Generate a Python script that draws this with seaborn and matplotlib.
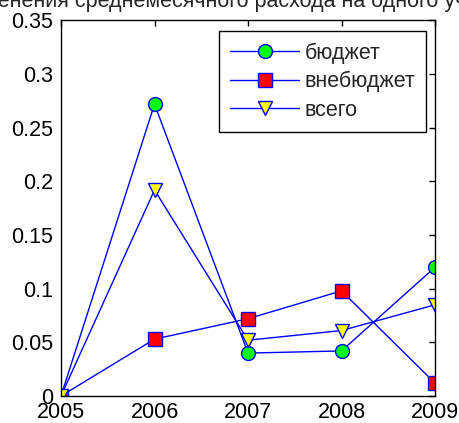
import numpy as np
import pandas as pd
import seaborn as sns
import matplotlib
matplotlib.use("Agg")
import matplotlib.pyplot as plt

# данные
years = [2005, 2006, 2007, 2008, 2009]
budget = [0.0, 0.272, 0.040, 0.042, 0.120]
extra_budget = [0.0, 0.053, 0.072, 0.098, 0.012]
total = [0.0, 0.192, 0.052, 0.061, 0.085]
labels = ["бюджет", "внебюджет", "всего"]
title = "Темп изменения среднемесячного расхода на одного учащегося"

sns.set_style("white")
plt.rcParams["font.family"] = ["Liberation Sans", "DejaVu Sans"]
fs = 15.5

W, H = 459, 423
fig = plt.figure(figsize=(W / 100, H / 100), dpi=100)
ax = fig.add_axes([61 / W, (H - 396) / H, 374 / W, 375.5 / H])

styles = [("o", "#00ff00"), ("s", "#ff0000"), ("v", "#ffff00")]
for vals, lab, (m, fc) in zip([budget, extra_budget, total], labels, styles):
    sns.lineplot(x=years, y=vals, ax=ax, color="blue", lw=1, marker=m,
                 markersize=10, markerfacecolor=fc, markeredgecolor="blue",
                 markeredgewidth=1, label=lab)

ax.set_xlim(2005, 2009)
ax.set_ylim(0, 0.35)
ax.set_xticks(years)
ax.set_xticklabels([str(y) for y in years])
ax.set_yticks(np.arange(0, 0.351, 0.05))
ax.set_yticklabels(["0", "0.05", "0.1", "0.15", "0.2", "0.25", "0.3", "0.35"])
ax.tick_params(direction="in", length=4, width=1, top=True, right=True,
               labelsize=fs, colors="black")
ax.tick_params(axis="x", pad=4.5)
ax.tick_params(axis="y", pad=5.5)
for s in ax.spines.values():
    s.set_color("black")
    s.set_linewidth(1)

leg = ax.legend(loc="upper right", bbox_to_anchor=(1 - 9 / 374, 1 - 11 / 375.5),
                borderaxespad=0, fontsize=fs, frameon=True, fancybox=False,
                edgecolor="black", handlelength=3.2, handletextpad=0.25,
                borderpad=0.5, labelspacing=0.35, framealpha=1)
leg.get_frame().set_linewidth(1)

# заголовок обрезан сверху, как на исходной картинке
r = fig.canvas.get_renderer()
tmp = fig.text(0, 0, "Темп изм", fontsize=fs)
shift = tmp.get_window_extent(r).width
tmp.remove()
fig.text(-(shift + 2) / W, (H - 7) / H, title, fontsize=fs, ha="left", va="baseline")

fig.savefig("out.png", dpi=100)
